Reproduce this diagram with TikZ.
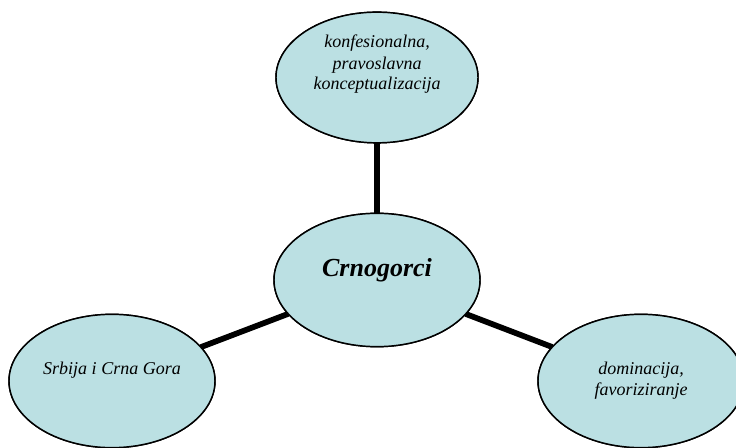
\documentclass[tikz,border=0pt]{standalone}
\usepackage{fontspec}
\setmainfont{Liberation Serif}
\usetikzlibrary{shapes.geometric}
\definecolor{bubble}{RGB}{187,224,227}
\begin{document}
\begin{tikzpicture}[x=0.75pt,y=-0.75pt,
  bubblebox/.style={ellipse,draw=black,line width=1.1pt,fill=bubble,
    inner sep=0pt,outer sep=0pt},
  link/.style={line width=4.3pt,draw=black},
  caption/.style={anchor=base,align=center,inner sep=0pt,
    font=\fontsize{13.5pt}{15.8pt}\selectfont\itshape},
  title/.style={anchor=base,inner sep=0pt,
    font=\fontsize{19.5pt}{22pt}\selectfont\bfseries\itshape}]
  \useasboundingbox (0,0) rectangle (736,448);
  \begin{scope}
    \clip (0,0) rectangle (736,448);
    % nodes are placed first (no text) so the links can refer to them
    \path (377,77.5) node[bubblebox,minimum width=151.5pt,minimum height=98pt] (top) {};
    \path (377,280) node[bubblebox,minimum width=154.5pt,minimum height=100pt] (mid) {};
    \path (112,381) node[bubblebox,minimum width=154.5pt,minimum height=100pt] (left) {};
    \path (641,381) node[bubblebox,minimum width=154.5pt,minimum height=100pt] (right) {};
    % thick links between the centre and the three outer bubbles
    \draw[link] (top.south) -- (mid.north);
    \draw[link] (left) -- (mid);
    \draw[link] (mid) -- (right);
    % redraw the bubbles over the links
    \path (377,77.5) node[bubblebox,minimum width=151.5pt,minimum height=98pt] (topfg) {};
    \path (377,280) node[bubblebox,minimum width=154.5pt,minimum height=100pt] (midfg) {};
    \path (112,381) node[bubblebox,minimum width=154.5pt,minimum height=100pt] (leftfg) {};
    \path (641,381) node[bubblebox,minimum width=154.5pt,minimum height=100pt] (rightfg) {};
  \end{scope}
  % texts
  \node[caption] (ttop1) at (377,48) {konfesionalna,};
  \node[caption] (ttop2) at (377,69.5) {pravoslavna};
  \node[caption] (ttop3) at (377,90) {konceptualizacija};
  \node[title] (tmid) at (377,277) {Crnogorci};
  \node[caption] (tleft) at (112,375) {Srbija i Crna Gora};
  \node[caption] (tright1) at (641,375) {dominacija,};
  \node[caption] (tright2) at (641,396) {favoriziranje};
\end{tikzpicture}
\end{document}
